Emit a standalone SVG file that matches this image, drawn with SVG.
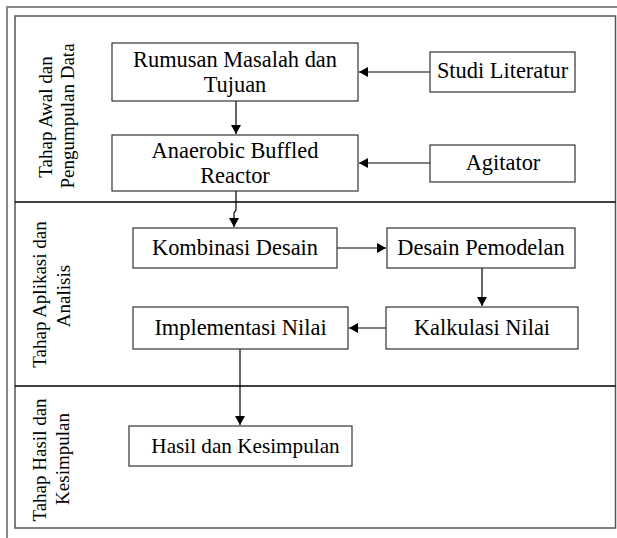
<svg xmlns="http://www.w3.org/2000/svg" width="617" height="538" viewBox="0 0 617 538">
<style>
.node rect{fill:#fff;stroke:#333;stroke-width:1.2}
.node text{font-family:"Liberation Serif","Times New Roman",serif;font-size:22.4px;fill:#000;text-anchor:middle}
.lane text{font-family:"Liberation Serif","Times New Roman",serif;font-size:19px;fill:#000;text-anchor:middle}
.conn{fill:none;stroke:#000;stroke-width:1.2}
</style>
<defs>
<marker id="ah" markerWidth="10" markerHeight="10" refX="9" refY="5" orient="auto" markerUnits="userSpaceOnUse">
<path d="M0,0 L9,5 L0,10 Z" fill="#000"/>
</marker>
</defs>
<rect width="617" height="538" fill="#fff"/>
<path d="M7,545 L7,7 L625,7" fill="none" stroke="#888" stroke-width="2"/>
<rect x="15" y="16" width="600.5" height="512" fill="none" stroke="#555" stroke-width="1.5"/>
<line x1="15" y1="202" x2="615.5" y2="202" stroke="#000" stroke-width="1.5"/>
<line x1="15" y1="386" x2="615.5" y2="386" stroke="#000" stroke-width="1.5"/>
<g id="lane1" class="lane">
<text transform="translate(52,117) rotate(-90)">Tahap Awal dan</text>
<text transform="translate(74,116) rotate(-90)">Pengumpulan Data</text>
</g>
<g id="lane2" class="lane">
<text transform="translate(46,294.5) rotate(-90)">Tahap Aplikasi dan</text>
<text transform="translate(70,296) rotate(-90)">Analisis</text>
</g>
<g id="lane3" class="lane">
<text transform="translate(46,460) rotate(-90)">Tahap Hasil dan</text>
<text transform="translate(69,459) rotate(-90)">Kesimpulan</text>
</g>
<g id="connectors">
<line class="conn" x1="430" y1="72" x2="359" y2="72" marker-end="url(#ah)"/>
<line class="conn" x1="430" y1="163" x2="359" y2="163" marker-end="url(#ah)"/>
<line class="conn" x1="236" y1="101" x2="236" y2="134" marker-end="url(#ah)"/>
<polyline class="conn" points="236,191 236,210 234,213 234,227" marker-end="url(#ah)"/>
<line class="conn" x1="337" y1="248" x2="386" y2="248" marker-end="url(#ah)"/>
<line class="conn" x1="482" y1="268" x2="482" y2="306" marker-end="url(#ah)"/>
<line class="conn" x1="386" y1="328" x2="349" y2="328" marker-end="url(#ah)"/>
<line class="conn" x1="240" y1="349" x2="240" y2="425" marker-end="url(#ah)"/>
</g>
<g id="rumusan" class="node">
<rect x="112" y="43" width="246" height="58"/>
<text x="235" y="67">Rumusan Masalah dan</text>
<text x="235" y="92">Tujuan</text>
</g>
<g id="studi" class="node">
<rect x="430" y="52" width="145" height="40"/>
<text x="502.5" y="78">Studi Literatur</text>
</g>
<g id="anaerobic" class="node">
<rect x="112" y="135" width="246" height="56"/>
<text x="235" y="158">Anaerobic Buffled</text>
<text x="235" y="183">Reactor</text>
</g>
<g id="agitator" class="node">
<rect x="430" y="145" width="145" height="37"/>
<text x="503" y="170">Agitator</text>
</g>
<g id="kombinasi" class="node">
<rect x="133" y="228" width="204" height="40"/>
<text x="235" y="255">Kombinasi Desain</text>
</g>
<g id="desain" class="node">
<rect x="387" y="228" width="188" height="40"/>
<text x="481" y="255">Desain Pemodelan</text>
</g>
<g id="kalkulasi" class="node">
<rect x="386" y="307" width="192" height="42"/>
<text x="482" y="335">Kalkulasi Nilai</text>
</g>
<g id="implementasi" class="node">
<rect x="133" y="307" width="215" height="42"/>
<text x="240.5" y="335">Implementasi Nilai</text>
</g>
<g id="hasil" class="node">
<rect x="129" y="426" width="223" height="40"/>
<text x="245.5" y="453" style="font-size:21.2px">Hasil dan Kesimpulan</text>
</g>
</svg>
